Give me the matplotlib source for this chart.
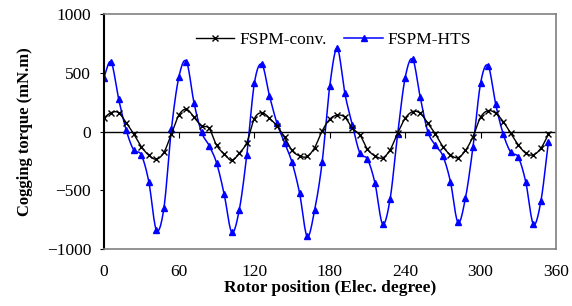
import numpy as np
import matplotlib
matplotlib.use("Agg")
import matplotlib.pyplot as plt

positions = list(range(0, 360, 6))
fspm_conv = [113, 161, 161, 76, -20, -127, -201, -235, -178, -20,
             142, 190, 122, 48, 28, -118, -190, -246, -184, -93,
             110, 161, 113, 48, -48, -161, -207, -212, -136, 6,
             105, 140, 122, 28, -28, -150, -207, -224, -156, -14,
             113, 170, 156, 71, -20, -127, -198, -222, -161, -42,
             122, 178, 156, 85, -14, -113, -184, -198, -142, -23]
fspm_hts = [453, 592, 278, 14, -156, -198, -425, -836, -654, 20,
            467, 595, 244, -6, -119, -269, -533, -856, -666, -198,
            411, 572, 306, 71, -93, -263, -524, -892, -666, -255,
            388, 708, 325, 57, -184, -235, -439, -785, -575, -23,
            459, 615, 292, 0, -116, -207, -425, -773, -564, -127,
            411, 561, 232, -20, -176, -218, -431, -788, -592, -85]
xticks = [0, 60, 120, 180, 240, 300, 360]
yticks = [-1000, -500, 0, 500, 1000]

plt.rcParams['font.family'] = ['Liberation Serif', 'DejaVu Serif']


def smooth(x, y, n=12):
    x = np.asarray(x, float)
    y = np.asarray(y, float)
    xp = np.concatenate([[2 * x[0] - x[1]], x, [2 * x[-1] - x[-2]]])
    yp = np.concatenate([[2 * y[0] - y[1]], y, [2 * y[-1] - y[-2]]])
    xs, ys = [], []
    t = np.linspace(0, 1, n, endpoint=False)
    for i in range(1, len(xp) - 2):
        p0, p1, p2, p3 = [np.array([xp[j], yp[j]]) for j in (i - 1, i, i + 1, i + 2)]
        for tt in t:
            pt = 0.5 * ((2 * p1) + (-p0 + p2) * tt + (2 * p0 - 5 * p1 + 4 * p2 - p3) * tt ** 2
                        + (-p0 + 3 * p1 - 3 * p2 + p3) * tt ** 3)
            xs.append(pt[0]); ys.append(pt[1])
    xs.append(x[-1]); ys.append(y[-1])
    return np.array(xs), np.array(ys)


fig = plt.figure(figsize=(5.72, 3.06), dpi=100)
ax = fig.add_axes([0.181, 0.186, 0.791, 0.768])

ax.axhline(0, color='black', lw=1.0, zorder=1)
ax.scatter(xticks[1:-1], [0] * (len(xticks) - 2), marker=3, s=16, color='black', lw=0.8, zorder=1)

sx, sy = smooth(positions, fspm_conv)
ax.plot(sx, sy, color='black', lw=1.0, zorder=3)
ax.plot(positions, fspm_conv, ls='none', marker='x', ms=4, mew=1.0, color='black', zorder=4)

hx, hy = smooth(positions, fspm_hts)
ax.plot(hx, hy, color='#0000ff', lw=1.1, zorder=2)
ax.plot(positions, fspm_hts, ls='none', marker='^', ms=4.5, color='#0000ff', zorder=2)

h1, = ax.plot([], [], color='black', lw=1.0, marker='x', ms=4, mew=1.0, label='FSPM-conv.')
h2, = ax.plot([], [], color='#0000ff', lw=1.1, marker='^', ms=4.5, label='FSPM-HTS')
ax.legend(handles=[h1, h2], loc='center left', bbox_to_anchor=(0.205, 0.888), ncol=2, frameon=False,
          fontsize=12.5, handlelength=2.2, columnspacing=1.0, handletextpad=0.3, borderaxespad=0,
          borderpad=0)

ax.set_xlim(0, 360)
ax.set_ylim(-1000, 1000)
ax.set_xticks(xticks)
ax.set_yticks(yticks)
ax.tick_params(axis='x', length=0, pad=11, labelsize=12.5)
ax.tick_params(axis='y', length=3, direction='out', labelsize=12.5, pad=6)

for s in ['top', 'right', 'bottom']:
    ax.spines[s].set_color('#808080')
    ax.spines[s].set_linewidth(1.2)
ax.spines['left'].set_color('black')
ax.spines['left'].set_linewidth(1.5)

ax.set_xlabel('Rotor position (Elec. degree)', fontsize=12.5, fontweight='bold', labelpad=0)
ax.set_ylabel('Cogging torque (mN.m)', fontsize=12, fontweight='bold', labelpad=10)

fig.savefig('out.png', dpi=100)
